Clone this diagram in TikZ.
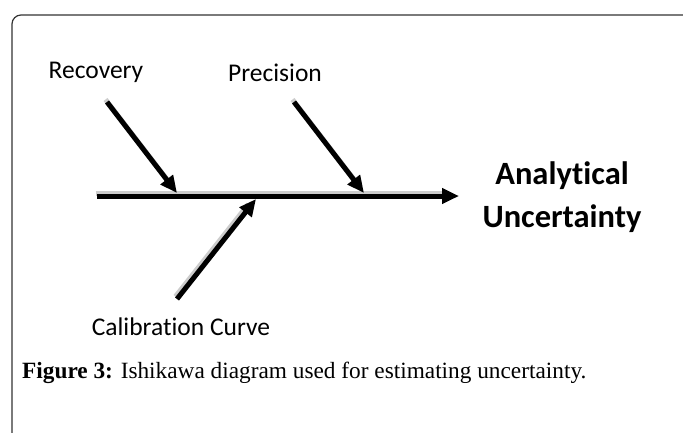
\documentclass[tikz,border=0pt]{standalone}
\usepackage{fontspec}
\setmainfont{Liberation Serif}
\newfontfamily\lblfont[RawFeature={-liga;-dlig;-clig}]{Carlito}
\usetikzlibrary{arrows.meta}
\tikzset{
  lbl/.style={font=\lblfont\fontsize{25.5}{30}\selectfont, inner sep=0pt},
  effectlbl/.style={font=\lblfont\bfseries\fontsize{32.5}{43}\selectfont, align=center, inner sep=0pt},
  bone/.style={line width=5pt, -{Triangle[length=17pt,width=15pt]}},
  boneshadow/.style={line width=5pt, black!20, shorten >=10pt},
  framestyle/.style={line width=1.2pt, black!80, rounded corners=9pt}
}
\begin{document}
\begin{tikzpicture}[x=1pt,y=-1pt]
\useasboundingbox (0,0) rectangle (683,432);
% frame
\draw[framestyle] (12,445) -- (12,15) -- (700,15);
% labels
\node[lbl] (rec) at (96,72) {Recovery};
\node[lbl] (pre) at (275,73) {Precision};
\node[lbl] (cal) at (181,327) {Calibration Curve};
\node[effectlbl] (eff) at (562,197) {Analytical\\Uncertainty};
\node[anchor=west, inner sep=0pt, font=\fontsize{23.3}{28}\selectfont] (cap) at (22,373) {\textbf{Figure 3:} Ishikawa diagram used for estimating uncertainty.};
% coordinates
\coordinate (mainS) at (97,196);
\coordinate (mainE) at (459,196);
\coordinate (recS) at (107,102);
\coordinate (recE) at (177,193);
\coordinate (preS) at (294,102);
\coordinate (preE) at (364,193);
\coordinate (calS) at (177,299);
\coordinate (calE) at (256,199);
% shadows
\begin{scope}[transform canvas={xshift=-1.5pt,yshift=2.5pt}]
\draw[boneshadow] (mainS) -- (mainE);
\draw[boneshadow] (recS) -- (recE);
\draw[boneshadow] (preS) -- (preE);
\draw[boneshadow] (calS) -- (calE);
\end{scope}
% bones
\draw[bone] (mainS) -- (mainE);
\draw[bone] (recS) -- (recE);
\draw[bone] (preS) -- (preE);
\draw[bone] (calS) -- (calE);
\end{tikzpicture}
\end{document}
